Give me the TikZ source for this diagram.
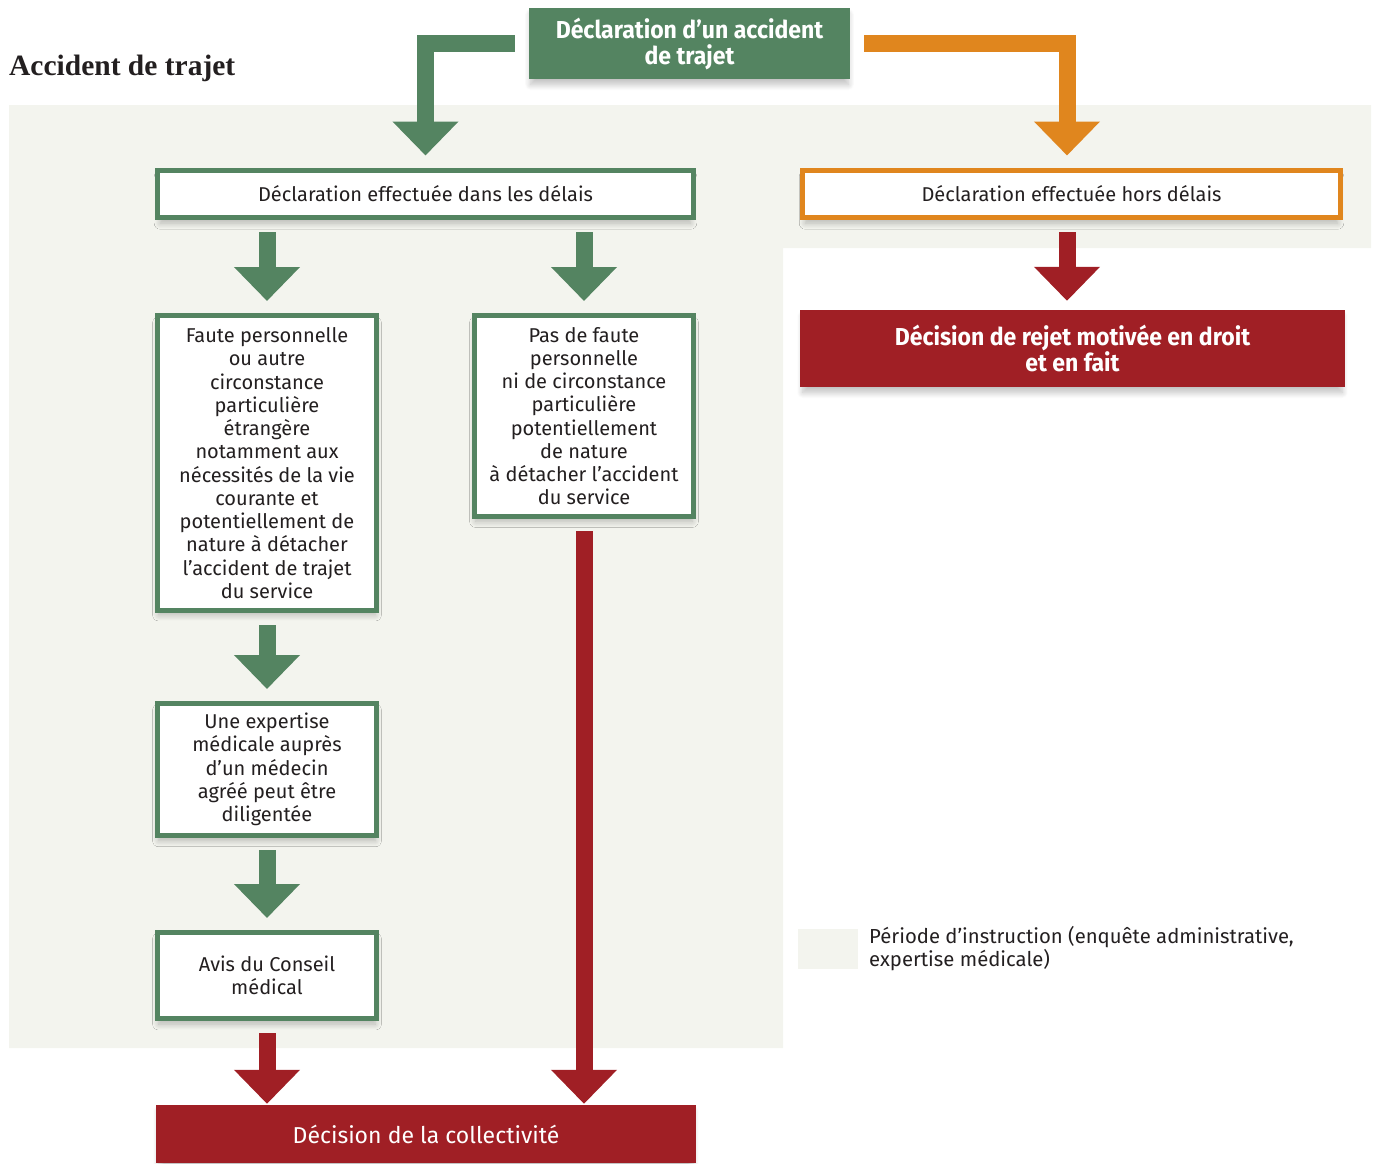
\documentclass[tikz,border=0pt]{standalone}
\usepackage{fontspec}
\setmainfont{Fira Sans}
\newfontfamily\condbold[FakeStretch=0.94]{Fira Sans}
\newfontfamily\headfont{Liberation Serif}
\usetikzlibrary{arrows.meta,shadows.blur}
\definecolor{cgreen}{HTML}{548461}
\definecolor{corange}{HTML}{E0861E}
\definecolor{cred}{HTML}{A01F25}
\definecolor{cbg}{HTML}{F3F4EE}
\definecolor{ctext}{HTML}{231F20}
\tikzset{
  shad/.style={blur shadow={shadow xshift=0pt, shadow yshift=-6pt, shadow scale=0.99, shadow blur radius=6pt, shadow blur steps=12, shadow opacity=25}},
  gbox/.style={draw=cgreen, line width=5pt, fill=white, inner sep=0pt, align=center, shad,
    font=\fontsize{20}{23.25}\selectfont, text=ctext},
  obox/.style={gbox, draw=corange},
  rbox/.style={fill=cred, inner sep=0pt, align=center, text=white, shad},
  fat/.style={line width=17pt, -{Triangle[width=64pt,length=34pt]}, shorten <=12pt, shorten >=12pt},
}
\begin{document}
\begin{tikzpicture}[x=1pt,y=-1pt]
\useasboundingbox (0,0) rectangle (1376,1163);
\fill[cbg] (9,105) -- (1371,105) -- (1371,248) -- (783,248) -- (783,1048) -- (9,1048) -- cycle;

\node[anchor=base west, inner sep=0pt, text=ctext, font=\headfont\bfseries\fontsize{29.5}{33}\selectfont] (head) at (9,75) {Accident de trajet};

\node[fill=cgreen, inner sep=0pt, minimum width=321pt, minimum height=71pt, align=center, text=white, shad,
  font=\condbold\bfseries\fontsize{24.5}{26}\selectfont] (top) at (689.5,43.5) {Déclaration d’un accident\\de trajet};

\node[gbox, minimum width=536pt, minimum height=47pt] (b1) at (425.5,194) {Déclaration effectuée dans les délais};
\node[obox, minimum width=538pt, minimum height=47pt] (b2) at (1071.5,194) {Déclaration effectuée hors délais};

\node[gbox, minimum width=219pt, minimum height=295pt] (faute) at (267,463) {Faute personnelle\\ou autre\\circonstance\\particulière\\étrangère\\notamment aux\\nécessités de la vie\\courante et\\potentiellement de\\nature à détacher\\l’accident de trajet\\du service};
\node[gbox, minimum width=219pt, minimum height=201pt] (pas) at (584,416) {Pas de faute\\personnelle\\ni de circonstance\\particulière\\potentiellement\\de nature\\à détacher l’accident\\du service};
\node[gbox, minimum width=219pt, minimum height=132pt] (exp) at (267,769.5) {Une expertise\\médicale auprès\\d’un médecin\\agréé peut être\\diligentée};
\node[gbox, minimum width=219pt, minimum height=86pt] (avis) at (267,975.5) {Avis du Conseil\\médical};

\node[rbox, minimum width=545pt, minimum height=77pt, font=\condbold\bfseries\fontsize{24.5}{26}\selectfont] (rejet) at (1072.5,348.5) {Décision de rejet motivée en droit\\et en fait};
\node[rbox, minimum width=540pt, minimum height=58pt, font=\fontsize{23}{26}\selectfont] (coll) at (426,1134) {Décision de la collectivité};

\fill[cbg] (798,929) rectangle (858,969);
\node[anchor=west, align=left, inner sep=0pt, text=ctext, font=\fontsize{20.3}{23}\selectfont] (leg) at (869,948.5) {Période d’instruction (enquête administrative,\\expertise médicale)};

\draw[fat, cgreen, shorten <=14pt, shorten >=12.5pt] (top.west) -| (b1.north);
\draw[fat, corange, shorten <=14pt, shorten >=12.5pt] (top.east) -| ([xshift=-4.5pt]b2.north);
\draw[fat, cgreen] (b1.south -| faute.north) -- (faute.north);
\draw[fat, cgreen] (b1.south -| pas.north) -- (pas.north);
\draw[fat, cred, shorten >=9pt] ([xshift=-4.5pt]b2.south) -- ([xshift=-5.5pt]rejet.north);
\draw[fat, cgreen] (faute.south) -- (exp.north);
\draw[fat, cgreen] (exp.south) -- (avis.north);
\draw[fat, cred, shorten >=1pt] (avis.south) -- (avis.south |- coll.north);
\draw[fat, cred, shorten >=1pt] (pas.south) -- (pas.south |- coll.north);
\end{tikzpicture}
\end{document}
